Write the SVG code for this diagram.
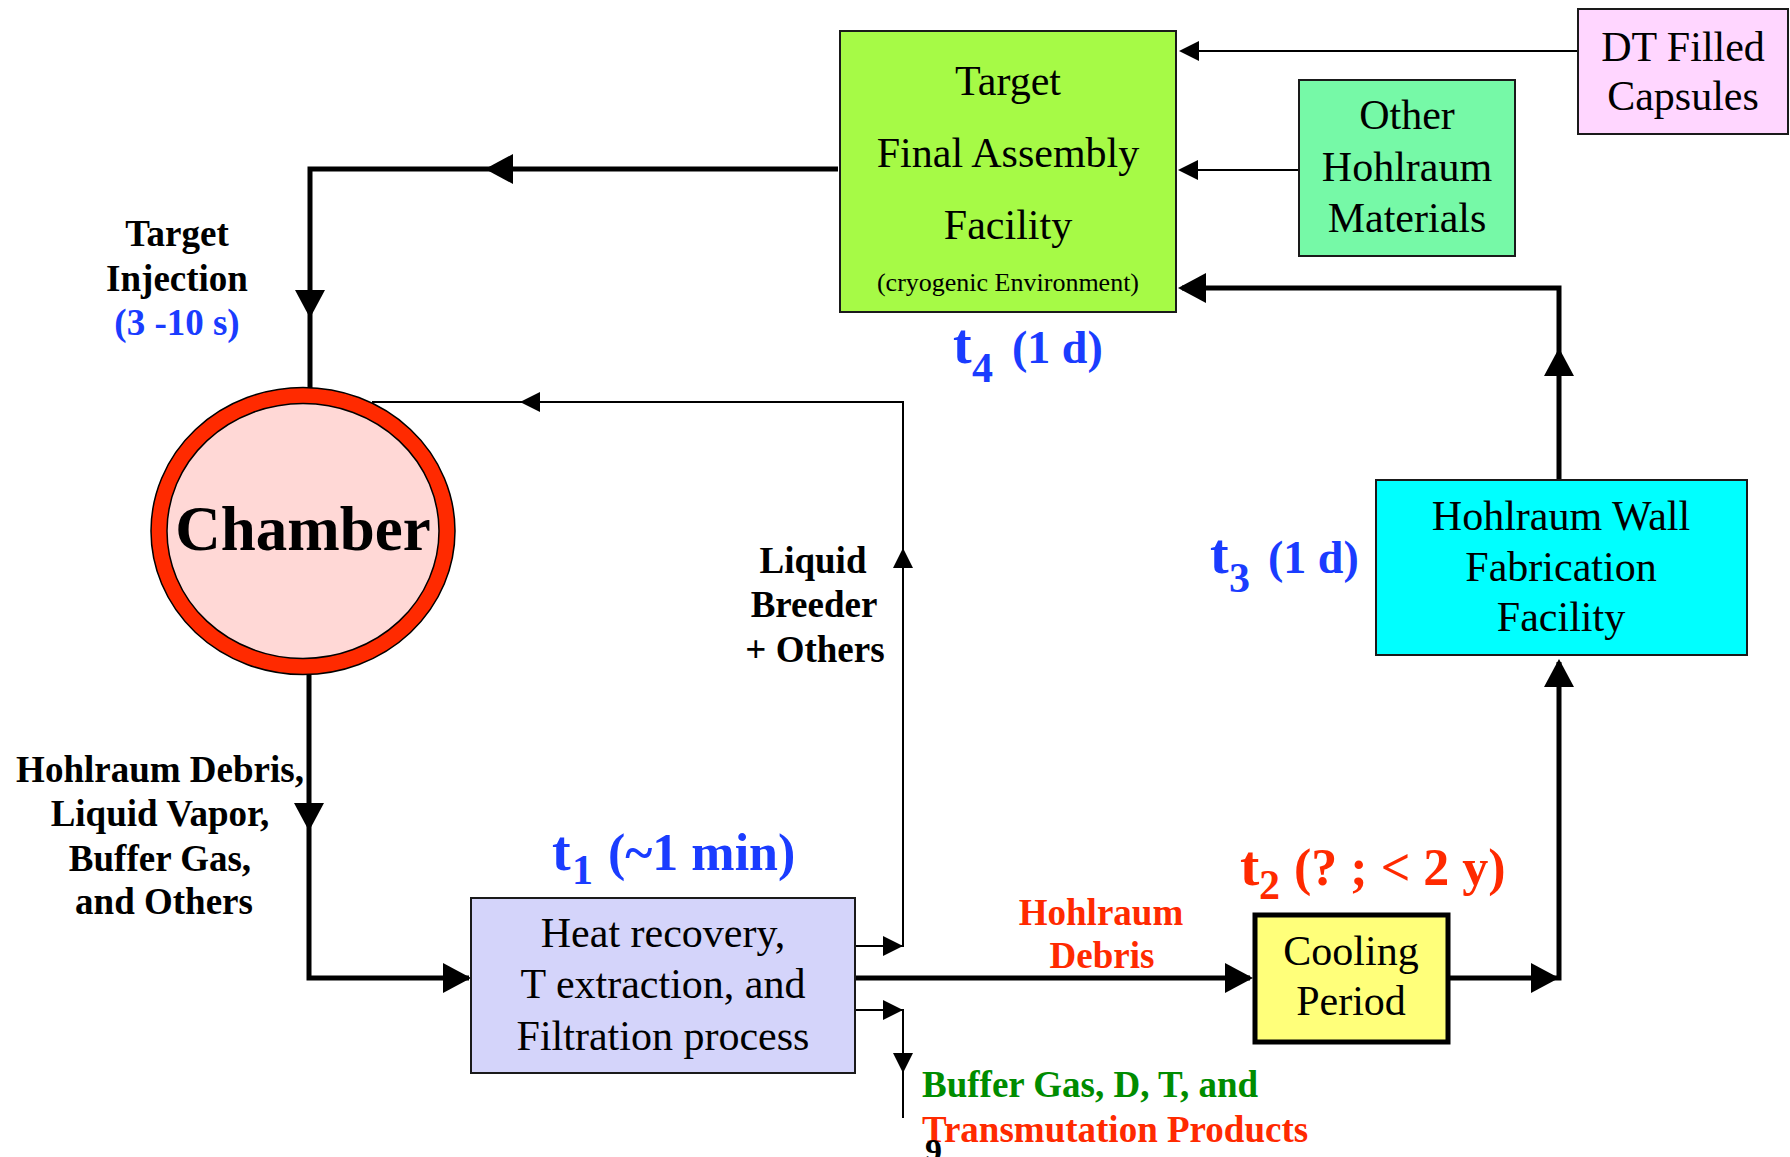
<svg xmlns="http://www.w3.org/2000/svg" xmlns:xlink="http://www.w3.org/1999/xlink" width="1790" height="1157" viewBox="0 0 1790 1157">
<style>
  .box { stroke: #1a1a1a; stroke-width: 2; }
  .txt { font-family: "Liberation Serif", "Times New Roman", serif; font-size: 42px; fill: #000; text-anchor: middle; }
  .lbl { font-family: "Liberation Serif", "Times New Roman", serif; font-size: 37px; font-weight: bold; text-anchor: middle; }
  .start { text-anchor: start; }
  .tl { font-family: "Liberation Serif", "Times New Roman", serif; font-weight: bold; }
  .thick { stroke: #000; stroke-width: 5; fill: none; }
  .thin { stroke: #000; stroke-width: 2; fill: none; }
  .blue { fill: #1a3cff; }
  .red { fill: #ff2a00; }
  .green { fill: #008c00; }
</style>
<defs>
  <path id="ah" d="M0,0 L-28,-15 L-28,15 Z" fill="#000"/>
  <path id="ahs" d="M0,0 L-20,-10 L-20,10 Z" fill="#000"/>
</defs>
<rect width="1790" height="1157" fill="#fff"/>

<g id="connectors">
  <!-- assembly to chamber (target injection) -->
  <polyline class="thick" points="838,169 310,169 310,388"/>
  <use xlink:href="#ah" transform="translate(485,169) rotate(180)"/>
  <use xlink:href="#ah" transform="translate(310,318) rotate(90)"/>
  <!-- chamber to heat recovery -->
  <polyline class="thick" points="309,675 309,978 469,978"/>
  <use xlink:href="#ah" transform="translate(309,831) rotate(90)"/>
  <use xlink:href="#ah" transform="translate(471,978)"/>
  <!-- heat to cooling -->
  <line class="thick" x1="855" y1="978" x2="1250" y2="978"/>
  <use xlink:href="#ah" transform="translate(1253,978)"/>
  <!-- cooling to hohlraum wall -->
  <polyline class="thick" points="1450,978 1559,978 1559,662"/>
  <use xlink:href="#ah" transform="translate(1559,978)"/>
  <use xlink:href="#ah" transform="translate(1559,659) rotate(-90)"/>
  <!-- hohlraum wall to assembly -->
  <polyline class="thick" points="1559,480 1559,288 1182,288"/>
  <use xlink:href="#ah" transform="translate(1559,348) rotate(-90)"/>
  <use xlink:href="#ah" transform="translate(1178,288) rotate(180)"/>
  <!-- DT capsules to assembly -->
  <line class="thin" x1="1578" y1="51" x2="1182" y2="51"/>
  <use xlink:href="#ahs" transform="translate(1179,51) rotate(180)"/>
  <!-- other hohlraum materials to assembly -->
  <line class="thin" x1="1299" y1="170" x2="1182" y2="170"/>
  <use xlink:href="#ahs" transform="translate(1178,170) rotate(180)"/>
  <!-- liquid breeder loop -->
  <polyline class="thin" points="855,946 903,946 903,402 372,402"/>
  <use xlink:href="#ahs" transform="translate(903,946)"/>
  <use xlink:href="#ahs" transform="translate(903,548) rotate(-90)"/>
  <use xlink:href="#ahs" transform="translate(520,402) rotate(180)"/>
  <!-- buffer gas out -->
  <polyline class="thin" points="855,1010 903,1010 903,1118"/>
  <use xlink:href="#ahs" transform="translate(903,1010)"/>
  <use xlink:href="#ahs" transform="translate(903,1073) rotate(90)"/>
</g>

<g id="assembly">
  <rect class="box" x="840" y="31" width="336" height="281" fill="#a6fa46"/>
  <text class="txt" x="1008" y="95">Target</text>
  <text class="txt" x="1008" y="167">Final Assembly</text>
  <text class="txt" x="1008" y="239">Facility</text>
  <text class="txt" x="1008" y="291" style="font-size:26px">(cryogenic Environment)</text>
</g>

<g id="dt-capsules">
  <rect class="box" x="1578" y="9" width="210" height="125" fill="#ffd6ff"/>
  <text class="txt" x="1683" y="61">DT Filled</text>
  <text class="txt" x="1683" y="110">Capsules</text>
</g>

<g id="other-materials">
  <rect class="box" x="1299" y="80" width="216" height="176" fill="#76f9a7"/>
  <text class="txt" x="1407" y="129">Other</text>
  <text class="txt" x="1407" y="181">Hohlraum</text>
  <text class="txt" x="1407" y="232">Materials</text>
</g>

<g id="chamber">
  <ellipse cx="303" cy="531" rx="144" ry="135.5" fill="#ffd8d6" stroke="#ff2a00" stroke-width="16"/>
  <ellipse cx="303" cy="531" rx="152" ry="143.5" fill="none" stroke="#000" stroke-width="1.5"/>
  <ellipse cx="303" cy="531" rx="136" ry="127.5" fill="none" stroke="#000" stroke-width="1.5"/>
  <text class="tl" x="303" y="550" text-anchor="middle" font-size="63">Chamber</text>
</g>

<g id="hohlraum-wall">
  <rect class="box" x="1376" y="480" width="371" height="175" fill="#00ffff"/>
  <text class="txt" x="1561" y="530">Hohlraum Wall</text>
  <text class="txt" x="1561" y="581">Fabrication</text>
  <text class="txt" x="1561" y="631">Facility</text>
</g>

<g id="heat-recovery">
  <rect class="box" x="471" y="898" width="384" height="175" fill="#d4d4fa"/>
  <text class="txt" x="663" y="947">Heat recovery,</text>
  <text class="txt" x="663" y="998">T extraction, and</text>
  <text class="txt" x="663" y="1050">Filtration process</text>
</g>

<g id="cooling">
  <rect x="1255" y="915" width="193" height="127" fill="#ffff7a" stroke="#000" stroke-width="5"/>
  <text class="txt" x="1351" y="965">Cooling</text>
  <text class="txt" x="1351" y="1015">Period</text>
</g>

<g id="labels">
  <text class="lbl" x="177" y="246">Target</text>
  <text class="lbl" x="177" y="291">Injection</text>
  <text class="lbl blue" x="177" y="335">(3 -10 s)</text>

  <text class="lbl" x="160" y="782">Hohlraum Debris,</text>
  <text class="lbl" x="160" y="826">Liquid Vapor,</text>
  <text class="lbl" x="160" y="871">Buffer Gas,</text>
  <text class="lbl" x="164" y="914">and Others</text>

  <text class="lbl" x="813" y="573">Liquid</text>
  <text class="lbl" x="814" y="617">Breeder</text>
  <text class="lbl" x="815" y="662">+ Others</text>

  <text class="lbl red" x="1101" y="925">Hohlraum</text>
  <text class="lbl red" x="1102" y="968">Debris</text>

  <text class="lbl green start" x="922" y="1097">Buffer Gas, D, T, and</text>
  <text class="lbl red start" x="922" y="1142">Transmutation Products</text>
  <text class="tl" x="925" y="1162" font-size="34" fill="#000">9</text>

  <text class="tl blue"><tspan x="953" y="363" font-size="56">t</tspan><tspan x="972" y="382" font-size="42">4</tspan><tspan x="1012" y="363" font-size="46">(1 d)</tspan></text>
  <text class="tl blue"><tspan x="1210" y="573" font-size="56">t</tspan><tspan x="1229" y="592" font-size="42">3</tspan><tspan x="1268" y="573" font-size="46">(1 d)</tspan></text>
  <text class="tl blue"><tspan x="552" y="870" font-size="56">t</tspan><tspan x="572" y="884" font-size="42">1</tspan><tspan x="608" y="870" font-size="52">(~1 min)</tspan></text>
  <text class="tl red"><tspan x="1240" y="885" font-size="58">t</tspan><tspan x="1259" y="899" font-size="42">2</tspan><tspan x="1294" y="885" font-size="52">(? ; &lt; 2 y)</tspan></text>
</g>
</svg>
